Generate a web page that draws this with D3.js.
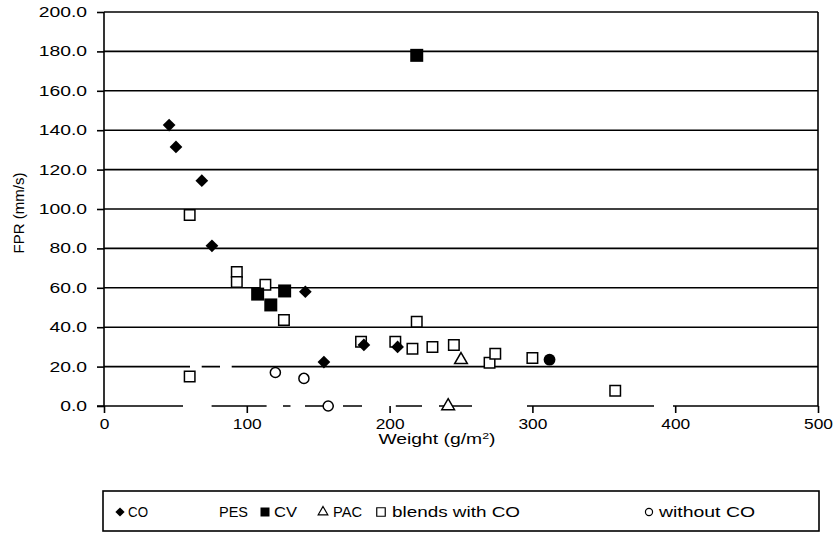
<!DOCTYPE html>
<html><head><meta charset="utf-8">
<script src="https://cdn.jsdelivr.net/npm/d3@7"></script>
<style>
html,body{margin:0;padding:0;background:#fff;}
svg text{font-family:"Liberation Sans",Arial,sans-serif;fill:#000;}
</style></head>
<body><svg id="c" width="833" height="543"></svg>
<script>
// ---- data ----
const yTicks = [0, 20, 40, 60, 80, 100, 120, 140, 160, 180, 200];
const xTicks = [0, 100, 200, 300, 400, 500];
const seriesNames = ["CO", "PES", "CV", "PAC", "blends with CO", "without CO"];
const coW = [45.6, 50.4, 68.5, 75.6, 141, 154, 182, 205.6];
const coV = [142.6, 131.5, 114.4, 81.3, 58, 22.3, 31, 30];
const pesW = [312];
const pesV = [23.5];
const cvW = [219, 107.6, 116.8, 126.5];
const cvV = [178, 56.8, 51.3, 58.4];
const pacW = [250, 241];
const pacV = [23.4, 0];
const blendW = [60, 93, 93, 113, 126, 60, 180, 204, 216, 230, 219, 245, 270, 274, 300, 358];
const blendV = [97, 68, 63, 61.5, 43.6, 15, 32.6, 32.6, 29, 30, 42.8, 31, 22, 26.5, 24.4, 7.8];
const woW = [120, 140, 157];
const woV = [17, 14, 0];

const svg = d3.select("#c");
const L = 104, R = 818, T = 12, B = 406;
const x = d3.scaleLinear().domain([0, 500]).range([L, R]);
const y = d3.scaleLinear().domain([0, 200]).range([B, T]);
const SX = 1.38; // horizontal stretch of the scanned text

// gridlines
svg.append("g").selectAll("line").data(yTicks.filter(d => d > 0)).join("line")
  .attr("x1", L).attr("x2", R).attr("y1", d => y(d)).attr("y2", d => y(d))
  .attr("stroke", "#000").attr("stroke-width", 1.6)
  .attr("stroke-dasharray", d => d === 20 ? "86 11.7 18.3 11.7 1000" : null);
// right border
svg.append("line").attr("x1", R).attr("x2", R).attr("y1", T).attr("y2", B)
  .attr("stroke", "#000").attr("stroke-width", 1.6);

// y axis
const ya = svg.append("g").attr("transform", `translate(${L},0)`)
  .call(d3.axisLeft(y).tickValues(yTicks).tickSize(7).tickPadding(16).tickFormat(d3.format(".1f")));
ya.select(".domain").attr("stroke-width", 1.6).attr("d", `M0,${T}V${B}`);
ya.selectAll(".tick line").attr("stroke-width", 1.6);
ya.selectAll(".tick text").attr("font-size", 14).attr("font-family", "Liberation Sans, Arial, sans-serif")
  .attr("x", -17 / SX).attr("transform", `scale(${SX},1)`);

// x axis (baseline drawn broken like scan)
const xa = svg.append("g").attr("transform", `translate(0,${B})`)
  .call(d3.axisBottom(x).tickValues(xTicks).tickSize(7).tickPadding(6));
xa.select(".domain").attr("stroke-width", 1.6).attr("d", `M${L - 7},0H${R}`)
  .attr("stroke-dasharray", "86 28.6 55 16.4 7.5 14.5 28.6 9.4 19 33.8 26.2 17 33 55 127 19 160");
xa.selectAll(".tick line").attr("stroke-width", 1.6);
xa.selectAll(".tick text").attr("font-size", 14).attr("font-family", "Liberation Sans, Arial, sans-serif")
  .attr("transform", `scale(1.24,1)`);

// axis titles
svg.append("text").attr("transform", `translate(24,${(T + B) / 2 + 4}) rotate(-90)`)
  .attr("text-anchor", "middle").attr("font-size", 15).text("FPR (mm/s)");
const xt = svg.append("text").attr("transform", `translate(437,444) scale(${SX},1)`)
  .attr("text-anchor", "middle").attr("font-size", 14);
xt.append("tspan").text("Weight (g/m");
xt.append("tspan").attr("font-size", 9).attr("dy", -5).text("2");
xt.append("tspan").attr("dy", 5).text(")");

// markers
const sq = s => d3.symbol(d3.symbolSquare, s * s)();
const diamondPath = s => d3.symbol(d3.symbolSquare, s * s)();
function pts(W, V) { return W.map((w, i) => ({ w, v: V[i] })); }
const g = svg.append("g");

g.selectAll(".bl").data(pts(blendW, blendV)).join("path").attr("class", "bl")
  .attr("d", sq(10.5)).attr("transform", d => `translate(${x(d.w)},${y(d.v)})`)
  .attr("fill", "#fff").attr("stroke", "#000").attr("stroke-width", 1.5);
g.selectAll(".wo").data(pts(woW, woV)).join("path").attr("class", "wo")
  .attr("d", d3.symbol(d3.symbolCircle, 80)()).attr("transform", d => `translate(${x(d.w)},${y(d.v)})`)
  .attr("fill", "#fff").attr("stroke", "#000").attr("stroke-width", 1.5);
g.selectAll(".pac").data(pts(pacW, pacV)).join("path").attr("class", "pac")
  .attr("d", d3.symbol(d3.symbolTriangle, 70)()).attr("transform", d => `translate(${x(d.w)},${y(d.v)})`)
  .attr("fill", "#fff").attr("stroke", "#000").attr("stroke-width", 1.5);
g.selectAll(".cv").data(pts(cvW, cvV)).join("path").attr("class", "cv")
  .attr("d", sq(13)).attr("transform", d => `translate(${x(d.w)},${y(d.v)})`)
  .attr("fill", "#000");
g.selectAll(".co").data(pts(coW, coV)).join("path").attr("class", "co")
  .attr("d", diamondPath(9)).attr("transform", d => `translate(${x(d.w)},${y(d.v)}) rotate(45)`)
  .attr("fill", "#000");
g.selectAll(".pes").data(pts(pesW, pesV)).join("path").attr("class", "pes")
  .attr("d", d3.symbol(d3.symbolCircle, 110)()).attr("transform", d => `translate(${x(d.w)},${y(d.v)})`)
  .attr("fill", "#000");

// legend
const lg = svg.append("g");
lg.append("rect").attr("x", 103).attr("y", 491).attr("width", 716).attr("height", 40)
  .attr("fill", "#fff").attr("stroke", "#000").attr("stroke-width", 1.6);
const legendItems = [
  { name: seriesNames[0], mx: 120, tx: 128, len: 20, sym: "diamond" },
  { name: seriesNames[1], mx: null, tx: 219, len: 29, sym: null },
  { name: seriesNames[2], mx: 265, tx: 274, len: 23, sym: "fsquare" },
  { name: seriesNames[3], mx: 323, tx: 333, len: 29, sym: "triangle" },
  { name: seriesNames[4], mx: 381, tx: 392, len: 128, sym: "osquare" },
  { name: seriesNames[5], mx: 649, tx: 659, len: 96, sym: "circle" }
];
const ly = 512;
legendItems.forEach(it => {
  if (it.sym === "diamond") lg.append("path").attr("d", diamondPath(6.5)).attr("transform", `translate(${it.mx},${ly}) rotate(45)`).attr("fill", "#000");
  if (it.sym === "fsquare") lg.append("path").attr("d", sq(9)).attr("transform", `translate(${it.mx},${ly})`).attr("fill", "#000");
  if (it.sym === "triangle") lg.append("path").attr("d", d3.symbol(d3.symbolTriangle, 40)()).attr("transform", `translate(${it.mx},${ly})`).attr("fill", "#fff").attr("stroke", "#000").attr("stroke-width", 1.2);
  if (it.sym === "osquare") lg.append("path").attr("d", sq(8.5)).attr("transform", `translate(${it.mx},${ly})`).attr("fill", "#fff").attr("stroke", "#000").attr("stroke-width", 1.2);
  if (it.sym === "circle") lg.append("path").attr("d", d3.symbol(d3.symbolCircle, 40)()).attr("transform", `translate(${it.mx},${ly})`).attr("fill", "#fff").attr("stroke", "#000").attr("stroke-width", 1.2);
  lg.append("text").attr("x", it.tx).attr("y", ly + 5).attr("font-size", 14)
    .attr("textLength", it.len).attr("lengthAdjust", "spacingAndGlyphs").text(it.name);
});
</script></body></html>
